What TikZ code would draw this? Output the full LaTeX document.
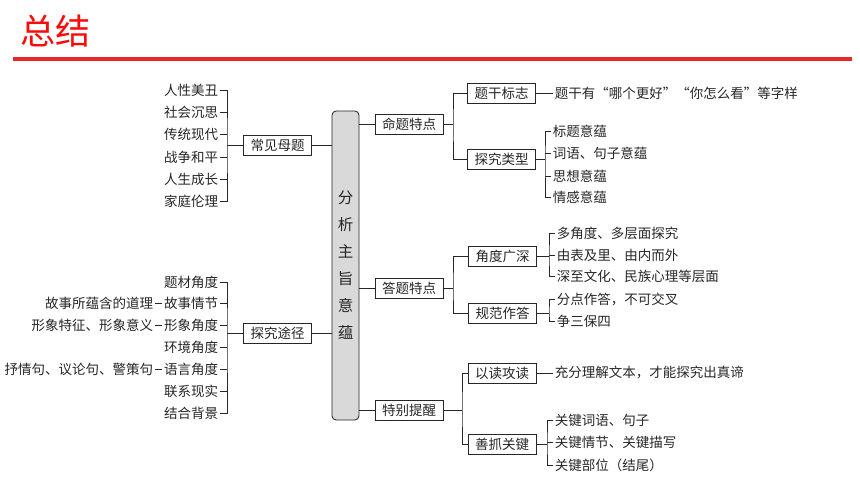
\documentclass[tikz,border=0pt]{standalone}
\usepackage{fontspec}
\setmainfont{Noto Sans CJK SC}
\definecolor{titlered}{RGB}{250,10,10}
\definecolor{linered}{RGB}{229,40,40}
\definecolor{hubgray}{RGB}{217,217,217}
\begin{document}
\begin{tikzpicture}[x=0.025cm, y=-0.025cm, line width=0.6pt, color=black!85,
    topic/.style={draw, fill=white, minimum width=1.7cm, minimum height=0.5cm, inner sep=1pt, font=\fontsize{9.6}{11}\selectfont},
    leaf/.style={inner sep=1pt, font=\fontsize{9.6}{11}\selectfont}]
    
    \useasboundingbox (0,0) rectangle (860,484);
    \node[text=titlered, font=\fontsize{25}{25}\selectfont] (title) at (56,31) {总结};
    \fill[linered] (13,57) rectangle (852,61);
    
    \node[draw, fill=hubgray, rounded corners=3pt, minimum width=0.675cm, minimum height=7.725cm,
        align=center, font=\fontsize{11}{19.2}\selectfont] (hub) at (345.5,265.5) {分\\析\\主\\旨\\意\\蕴};
    
    % left: 常见母题
    \node[topic] (cjmt) at (277.5,145) {常见母题};
    \coordinate (cjmtb) at (227,145);
    \node[leaf, anchor=east] (rxmc) at (220,90) {人性美丑};
    \node[leaf, anchor=east] (shcs) at (220,112) {社会沉思};
    \node[leaf, anchor=east] (ctxd) at (220,134) {传统现代};
    \node[leaf, anchor=east] (zzhp) at (220,157) {战争和平};
    \node[leaf, anchor=east] (rscz) at (220,179) {人生成长};
    \node[leaf, anchor=east] (jtll) at (220,201) {家庭伦理};
    \draw (cjmt.east) -- (cjmt.east -| hub.west);
    \draw (cjmt.west) -- (cjmtb);
    \draw (rxmc.east) -| (cjmtb) |- (jtll.east);
    \draw (shcs.east) -- (shcs.east -| cjmtb);
    \draw (ctxd.east) -- (ctxd.east -| cjmtb);
    \draw (zzhp.east) -- (zzhp.east -| cjmtb);
    \draw (rscz.east) -- (rscz.east -| cjmtb);
    
    % left: 探究途径
    \node[topic] (tjtj) at (277.5,333) {探究途径};
    \coordinate (tjtjb) at (227,333);
    \node[leaf, anchor=east] (tcjd) at (220,282) {题材角度};
    \node[leaf, anchor=east] (gsqj) at (220,303) {故事情节};
    \node[leaf, anchor=east] (xxjd) at (220,325) {形象角度};
    \node[leaf, anchor=east] (hjjd) at (220,347) {环境角度};
    \node[leaf, anchor=east] (yyjd) at (220,369) {语言角度};
    \node[leaf, anchor=east] (lxxs) at (220,391) {联系现实};
    \node[leaf, anchor=east] (jhbj) at (220,413) {结合背景};
    \node[leaf, anchor=east] (gsdl) at (155,303) {故事所蕴含的道理};
    \node[leaf, anchor=east] (xxyy) at (155,325) {形象特征、形象意义};
    \node[leaf, anchor=east] (sqj) at (155,369) {抒情句、议论句、警策句};
    \draw (tjtj.east) -- (tjtj.east -| hub.west);
    \draw (tjtj.west) -- (tjtjb);
    \draw (tcjd.east) -| (tjtjb) |- (jhbj.east);
    \draw (gsqj.east) -- (gsqj.east -| tjtjb);
    \draw (xxjd.east) -- (xxjd.east -| tjtjb);
    \draw (hjjd.east) -- (hjjd.east -| tjtjb);
    \draw (yyjd.east) -- (yyjd.east -| tjtjb);
    \draw (lxxs.east) -- (lxxs.east -| tjtjb);
    \draw (gsdl) -- (gsqj);
    \draw (xxyy) -- (xxjd);
    \draw (sqj) -- (yyjd);
    
    % right: 命题特点
    \node[topic] (mttd) at (409,124) {命题特点};
    \coordinate (mttdb) at (453,124);
    \node[topic] (tgbz) at (501.5,93) {题干标志};
    \node[topic] (tjlx) at (501.5,159) {探究类型};
    \node[leaf, anchor=west] (tgzy) at (553,93) {题干有“哪个更好”“你怎么看”等字样};
    \coordinate (tjlxb) at (545,159);
    \node[leaf, anchor=west] (btyw) at (551,131) {标题意蕴};
    \node[leaf, anchor=west] (cyyw) at (551,153) {词语、句子意蕴};
    \node[leaf, anchor=west] (sxyw) at (551,176) {思想意蕴};
    \node[leaf, anchor=west] (qgyw) at (551,197) {情感意蕴};
    \draw (mttd.west -| hub.east) -- (mttd.west);
    \draw (mttd.east) -- (mttdb);
    \draw (tgbz.west) -| (mttdb) |- (tjlx.west);
    \draw (tgbz.east) -- (tgzy.west);
    \draw (tjlx.east) -- (tjlxb);
    \draw (btyw.west) -| (tjlxb) |- (qgyw.west);
    \draw (cyyw.west) -- (cyyw.west -| tjlxb);
    \draw (sxyw.west) -- (sxyw.west -| tjlxb);
    
    % right: 答题特点
    \node[topic] (dttd) at (409,288) {答题特点};
    \coordinate (dttdb) at (453,288);
    \node[topic] (jdgs) at (502.5,256) {角度广深};
    \node[topic] (gfzd) at (502.5,313) {规范作答};
    \coordinate (jdgsb) at (549,256);
    \node[leaf, anchor=west] (djd) at (555,233) {多角度、多层面探究};
    \node[leaf, anchor=west] (bjl) at (555,255) {由表及里、由内而外};
    \node[leaf, anchor=west] (szwh) at (555,276) {深至文化、民族心理等层面};
    \coordinate (gfzdb) at (549,313);
    \node[leaf, anchor=west] (fdzd) at (555,299) {分点作答，不可交叉};
    \node[leaf, anchor=west] (zsbs) at (555,321) {争三保四};
    \draw (dttd.west -| hub.east) -- (dttd.west);
    \draw (dttd.east) -- (dttdb);
    \draw (jdgs.west) -| (dttdb) |- (gfzd.west);
    \draw (jdgs.east) -- (jdgsb);
    \draw (djd.west) -| (jdgsb) |- (szwh.west);
    \draw (bjl.west) -- (bjl.west -| jdgsb);
    \draw (gfzd.east) -- (gfzdb);
    \draw (fdzd.west) -| (gfzdb) |- (zsbs.west);
    
    % right: 特别提醒
    \node[topic] (tbtx) at (409,410) {特别提醒};
    \coordinate (tbtxb) at (462,410);
    \node[topic] (ydgd) at (502,373) {以读攻读};
    \node[topic] (szgj) at (502,444) {善抓关键};
    \node[leaf, anchor=west] (cflj) at (553,373) {充分理解文本，才能探究出真谛};
    \coordinate (szgjb) at (547,444);
    \node[leaf, anchor=west] (gjcy) at (553,420) {关键词语、句子};
    \node[leaf, anchor=west] (gjqj) at (553,442) {关键情节、关键描写};
    \node[leaf, anchor=west] (gjbw) at (553,465) {关键部位（结尾）};
    \draw (tbtx.west -| hub.east) -- (tbtx.west);
    \draw (tbtx.east) -- (tbtxb);
    \draw (ydgd.west) -| (tbtxb) |- (szgj.west);
    \draw (ydgd.east) -- (cflj.west);
    \draw (szgj.east) -- (szgjb);
    \draw (gjcy.west) -| (szgjb) |- (gjbw.west);
    \draw (gjqj.west) -- (gjqj.west -| szgjb);
    
\end{tikzpicture}
\end{document}
